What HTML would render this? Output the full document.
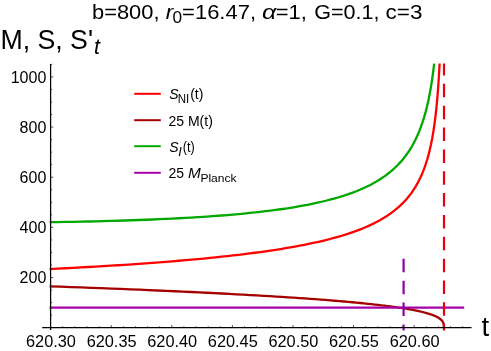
<!DOCTYPE html>
<html><head><meta charset="utf-8"><title>plot</title>
<style>
html,body{margin:0;padding:0;background:#fff;}
body{width:491px;height:351px;overflow:hidden;font-family:"Liberation Sans",sans-serif;}
svg{display:block;font-family:"Liberation Sans",sans-serif;will-change:transform;}
svg text{fill:#000;}
</style></head><body>
<svg width="491" height="351" viewBox="0 0 491 351">
<rect width="491" height="351" fill="#fff"/>
<!-- title -->
<g font-size="20.6">
<text x="92.0" y="19" textLength="67.5" lengthAdjust="spacingAndGlyphs">b=800,</text>
<text x="165.8" y="19" font-style="italic" textLength="7.4" lengthAdjust="spacingAndGlyphs">r</text>
<text x="172.4" y="23.1" font-size="17" textLength="9.6" lengthAdjust="spacingAndGlyphs">0</text>
<text x="182.1" y="19" textLength="73.9" lengthAdjust="spacingAndGlyphs">=16.47,</text>
<text x="262.0" y="19" font-style="italic" textLength="14.3" lengthAdjust="spacingAndGlyphs">α</text>
<text x="275.7" y="19" textLength="31.2" lengthAdjust="spacingAndGlyphs">=1,</text>
<text x="314.2" y="19" textLength="65.3" lengthAdjust="spacingAndGlyphs">G=0.1,</text>
<text x="385.6" y="19" textLength="36.8" lengthAdjust="spacingAndGlyphs">c=3</text>
</g>
<!-- y label -->
<text x="0.4" y="49.4" font-size="28" textLength="92.6" lengthAdjust="spacingAndGlyphs">M, S, S'</text>
<text x="94" y="54.3" font-size="21.5" font-style="italic">t</text>
<!-- curves -->
<g fill="none" stroke-width="2.3" stroke-linejoin="round">
<path d="M49.60,269.06 57.51,268.67 65.34,268.26 73.08,267.85 80.73,267.43 88.30,267.01 95.78,266.58 103.17,266.14 110.48,265.69 117.69,265.24 124.83,264.78 131.88,264.31 138.84,263.83 145.71,263.34 152.50,262.84 159.21,262.34 165.83,261.82 172.36,261.30 178.82,260.77 185.18,260.22 191.46,259.67 197.66,259.10 203.77,258.52 209.80,257.93 215.75,257.33 221.61,256.72 227.39,256.09 233.09,255.45 238.71,254.80 244.24,254.13 249.69,253.45 255.05,252.75 260.34,252.04 265.54,251.31 270.66,250.57 275.71,249.80 280.66,249.02 285.54,248.22 290.34,247.40 295.06,246.57 299.70,245.70 304.25,244.82 308.73,243.92 313.13,242.99 317.45,242.03 321.69,241.05 325.85,240.05 329.93,239.01 333.94,237.95 337.86,236.86 341.71,235.73 345.48,234.57 349.18,233.37 352.80,232.14 356.34,230.87 359.80,229.56 363.19,228.20 366.50,226.81 369.74,225.36 372.90,223.86 375.98,222.31 379.00,220.71 381.93,219.04 384.80,217.32 387.59,215.52 390.30,213.66 392.94,211.72 395.51,209.70 398.01,207.60 400.44,205.40 402.79,203.11 405.07,200.72 407.29,198.21 409.43,195.58 411.50,192.83 413.50,189.93 415.43,186.88 417.29,183.67 419.09,180.28 420.81,176.69 422.47,172.89 424.06,168.86 425.59,164.57 427.05,159.99 428.44,155.10 429.77,149.86 431.03,144.23 432.23,138.15 433.36,131.58 434.43,124.44 435.44,116.66 436.39,108.14 437.28,98.75 438.10,88.36 438.87,76.78 439.58,63.79 439.58,63.60" stroke="#ff0000"/>
<path d="M49.60,286.30 60.35,286.68 70.91,287.06 81.27,287.44 91.44,287.82 101.41,288.20 111.20,288.58 120.79,288.96 130.20,289.34 139.43,289.72 148.47,290.10 157.33,290.48 166.02,290.86 174.52,291.24 182.85,291.62 191.01,292.00 199.00,292.38 206.81,292.76 214.46,293.14 221.94,293.52 229.26,293.90 236.41,294.28 243.40,294.66 250.24,295.04 256.92,295.42 263.44,295.80 269.81,296.18 276.02,296.56 282.09,296.94 288.01,297.32 293.78,297.70 299.41,298.08 304.90,298.46 310.24,298.84 315.45,299.22 320.52,299.59 325.46,299.97 330.26,300.35 334.93,300.73 339.47,301.11 343.88,301.49 348.16,301.87 352.33,302.25 356.37,302.63 360.28,303.01 364.08,303.39 367.77,303.77 371.34,304.15 374.79,304.53 378.13,304.91 381.37,305.29 384.49,305.67 387.51,306.05 390.43,306.43 393.24,306.81 395.96,307.19 398.57,307.57 401.09,307.95 403.51,308.33 405.84,308.71 408.08,309.09 410.23,309.47 412.29,309.85 414.26,310.23 416.15,310.61 417.96,310.99 419.69,311.37 421.34,311.75 422.92,312.13 424.41,312.51 425.84,312.89 427.19,313.27 428.48,313.65 429.69,314.03 430.85,314.41 431.93,314.79 432.96,315.17 433.92,315.55 434.83,315.93 435.68,316.31 436.47,316.69 437.22,317.07 437.91,317.45 438.55,317.83 439.14,318.21 439.69,318.58 440.20,318.96 440.66,319.34 441.08,319.72 441.46,320.10 441.81,320.48 442.12,320.86 442.40,321.24 442.65,321.62 442.87,322.00 443.06,322.38 443.23,322.76 443.37,323.14 443.49,323.52 443.60,323.90 443.68,324.28 443.74,324.66 443.80,325.04 443.83,325.42 443.86,325.80 443.88,326.18 443.89,326.56 443.90,326.94 443.90,327.32 443.90,327.70" stroke="#a50000"/>
<path d="M49.60,222.21 57.51,222.09 65.34,221.95 73.08,221.81 80.73,221.66 88.30,221.49 95.78,221.32 103.17,221.13 110.48,220.94 117.69,220.73 124.83,220.51 131.88,220.27 138.84,220.02 145.71,219.77 152.50,219.49 159.21,219.21 165.83,218.91 172.36,218.59 178.82,218.26 185.18,217.92 191.46,217.55 197.66,217.18 203.77,216.78 209.80,216.37 215.75,215.95 221.61,215.50 227.39,215.04 233.09,214.55 238.71,214.05 244.24,213.53 249.69,212.98 255.05,212.42 260.34,211.83 265.54,211.22 270.66,210.58 275.71,209.92 280.66,209.24 285.54,208.52 290.34,207.78 295.06,207.02 299.70,206.22 304.25,205.39 308.73,204.53 313.13,203.64 317.45,202.71 321.69,201.75 325.85,200.75 329.93,199.71 333.94,198.63 337.86,197.51 341.71,196.34 345.48,195.13 349.18,193.87 352.80,192.57 356.34,191.20 359.80,189.79 363.19,188.31 366.50,186.77 369.74,185.17 372.90,183.51 375.98,181.77 379.00,179.95 381.93,178.06 384.80,176.08 387.59,174.02 390.30,171.86 392.94,169.60 395.51,167.23 398.01,164.75 400.44,162.15 402.79,159.42 405.07,156.55 407.29,153.54 409.43,150.36 411.50,147.02 413.50,143.49 415.43,139.76 417.29,135.81 419.09,131.63 420.81,127.19 422.47,122.47 424.06,117.44 425.59,112.08 427.05,106.34 428.44,100.19 429.77,93.58 431.03,86.46 432.23,78.76 433.36,70.41 434.18,63.60" stroke="#00a800"/>
<path d="M49.6,307.7 L464.2,307.7" stroke="#a800a8"/>
<path d="M403.6,258.8 L403.6,330.4" stroke="#8c00a6" stroke-dasharray="13.5,8.4" stroke-width="2.2"/>
<path d="M444,63.6 L444,330.4" stroke="#e8000f" stroke-dasharray="13.5,8.35" stroke-dashoffset="1.6" stroke-width="2.2"/>
</g>
<!-- axes -->
<g stroke="#000" stroke-width="1.25" fill="none">
<line x1="42.2" y1="327.7" x2="471.5" y2="327.7"/>
<line x1="50.6" y1="64" x2="50.6" y2="330"/>
</g>
<g stroke="#000" stroke-width="0.65" fill="none">
<line x1="50.60" y1="327.70" x2="50.60" y2="325.00"/>
<line x1="62.72" y1="327.70" x2="62.72" y2="326.20"/>
<line x1="74.84" y1="327.70" x2="74.84" y2="326.20"/>
<line x1="86.96" y1="327.70" x2="86.96" y2="326.20"/>
<line x1="99.08" y1="327.70" x2="99.08" y2="326.20"/>
<line x1="111.20" y1="327.70" x2="111.20" y2="325.00"/>
<line x1="123.32" y1="327.70" x2="123.32" y2="326.20"/>
<line x1="135.44" y1="327.70" x2="135.44" y2="326.20"/>
<line x1="147.56" y1="327.70" x2="147.56" y2="326.20"/>
<line x1="159.68" y1="327.70" x2="159.68" y2="326.20"/>
<line x1="171.80" y1="327.70" x2="171.80" y2="325.00"/>
<line x1="183.92" y1="327.70" x2="183.92" y2="326.20"/>
<line x1="196.04" y1="327.70" x2="196.04" y2="326.20"/>
<line x1="208.16" y1="327.70" x2="208.16" y2="326.20"/>
<line x1="220.28" y1="327.70" x2="220.28" y2="326.20"/>
<line x1="232.40" y1="327.70" x2="232.40" y2="325.00"/>
<line x1="244.52" y1="327.70" x2="244.52" y2="326.20"/>
<line x1="256.64" y1="327.70" x2="256.64" y2="326.20"/>
<line x1="268.76" y1="327.70" x2="268.76" y2="326.20"/>
<line x1="280.88" y1="327.70" x2="280.88" y2="326.20"/>
<line x1="293.00" y1="327.70" x2="293.00" y2="325.00"/>
<line x1="305.12" y1="327.70" x2="305.12" y2="326.20"/>
<line x1="317.24" y1="327.70" x2="317.24" y2="326.20"/>
<line x1="329.36" y1="327.70" x2="329.36" y2="326.20"/>
<line x1="341.48" y1="327.70" x2="341.48" y2="326.20"/>
<line x1="353.60" y1="327.70" x2="353.60" y2="325.00"/>
<line x1="365.72" y1="327.70" x2="365.72" y2="326.20"/>
<line x1="377.84" y1="327.70" x2="377.84" y2="326.20"/>
<line x1="389.96" y1="327.70" x2="389.96" y2="326.20"/>
<line x1="402.08" y1="327.70" x2="402.08" y2="326.20"/>
<line x1="414.20" y1="327.70" x2="414.20" y2="325.00"/>
<line x1="426.32" y1="327.70" x2="426.32" y2="326.20"/>
<line x1="438.44" y1="327.70" x2="438.44" y2="326.20"/>
<line x1="450.56" y1="327.70" x2="450.56" y2="326.20"/>
<line x1="462.68" y1="327.70" x2="462.68" y2="326.20"/>
<line x1="50.60" y1="327.70" x2="53.30" y2="327.70"/>
<line x1="50.60" y1="315.16" x2="52.10" y2="315.16"/>
<line x1="50.60" y1="302.62" x2="52.10" y2="302.62"/>
<line x1="50.60" y1="290.08" x2="52.10" y2="290.08"/>
<line x1="50.60" y1="277.54" x2="53.30" y2="277.54"/>
<line x1="50.60" y1="265.00" x2="52.10" y2="265.00"/>
<line x1="50.60" y1="252.46" x2="52.10" y2="252.46"/>
<line x1="50.60" y1="239.92" x2="52.10" y2="239.92"/>
<line x1="50.60" y1="227.38" x2="53.30" y2="227.38"/>
<line x1="50.60" y1="214.84" x2="52.10" y2="214.84"/>
<line x1="50.60" y1="202.30" x2="52.10" y2="202.30"/>
<line x1="50.60" y1="189.76" x2="52.10" y2="189.76"/>
<line x1="50.60" y1="177.22" x2="53.30" y2="177.22"/>
<line x1="50.60" y1="164.68" x2="52.10" y2="164.68"/>
<line x1="50.60" y1="152.14" x2="52.10" y2="152.14"/>
<line x1="50.60" y1="139.60" x2="52.10" y2="139.60"/>
<line x1="50.60" y1="127.06" x2="53.30" y2="127.06"/>
<line x1="50.60" y1="114.52" x2="52.10" y2="114.52"/>
<line x1="50.60" y1="101.98" x2="52.10" y2="101.98"/>
<line x1="50.60" y1="89.44" x2="52.10" y2="89.44"/>
<line x1="50.60" y1="76.90" x2="53.30" y2="76.90"/>
<line x1="50.60" y1="64.36" x2="52.10" y2="64.36"/>
</g>
<g font-size="16">
<text x="51.00" y="347.3" text-anchor="middle" textLength="49.9" lengthAdjust="spacingAndGlyphs">620.30</text>
<text x="111.60" y="347.3" text-anchor="middle" textLength="49.9" lengthAdjust="spacingAndGlyphs">620.35</text>
<text x="172.20" y="347.3" text-anchor="middle" textLength="49.9" lengthAdjust="spacingAndGlyphs">620.40</text>
<text x="232.80" y="347.3" text-anchor="middle" textLength="49.9" lengthAdjust="spacingAndGlyphs">620.45</text>
<text x="293.40" y="347.3" text-anchor="middle" textLength="49.9" lengthAdjust="spacingAndGlyphs">620.50</text>
<text x="354.00" y="347.3" text-anchor="middle" textLength="49.9" lengthAdjust="spacingAndGlyphs">620.55</text>
<text x="414.60" y="347.3" text-anchor="middle" textLength="49.9" lengthAdjust="spacingAndGlyphs">620.60</text>
<text x="46.3" y="283.14" text-anchor="end">200</text>
<text x="46.3" y="232.98" text-anchor="end">400</text>
<text x="46.3" y="182.82" text-anchor="end">600</text>
<text x="46.3" y="132.66" text-anchor="end">800</text>
<text x="46.3" y="82.50" text-anchor="end">1000</text>
</g>
<text x="481.6" y="336.4" font-size="27.5">t</text>
<!-- legend -->
<g fill="none" stroke-width="2">
<line x1="134.2" y1="93.8" x2="160.8" y2="93.8" stroke="#ff0000"/>
<line x1="134.2" y1="120.2" x2="160.8" y2="120.2" stroke="#a50000"/>
<line x1="134.2" y1="146.2" x2="160.8" y2="146.2" stroke="#00a800"/>
<line x1="134.2" y1="172.8" x2="160.8" y2="172.8" stroke="#a800a8"/>
</g>
<g font-size="14">
<text x="169.2" y="99.4" font-style="italic">S</text>
<text x="177.7" y="102.6" font-size="12.6" textLength="11.5" lengthAdjust="spacingAndGlyphs">NI</text>
<text x="190.2" y="99.4">(t)</text>
<text x="168.5" y="125.9">25 M(t)</text>
<text x="169.2" y="152" font-style="italic">S</text>
<text x="178.2" y="155.6" font-size="12.6" font-style="italic">I</text>
<text x="182.7" y="152" textLength="12" lengthAdjust="spacingAndGlyphs">(t)</text>
<text x="168.5" y="178.3">25</text>
<text x="188" y="178.3" font-style="italic" textLength="12.8" lengthAdjust="spacingAndGlyphs">M</text>
<text x="200.4" y="181.8" font-size="11.6" textLength="36.2" lengthAdjust="spacingAndGlyphs">Planck</text>
</g>
</svg>
</body></html>
